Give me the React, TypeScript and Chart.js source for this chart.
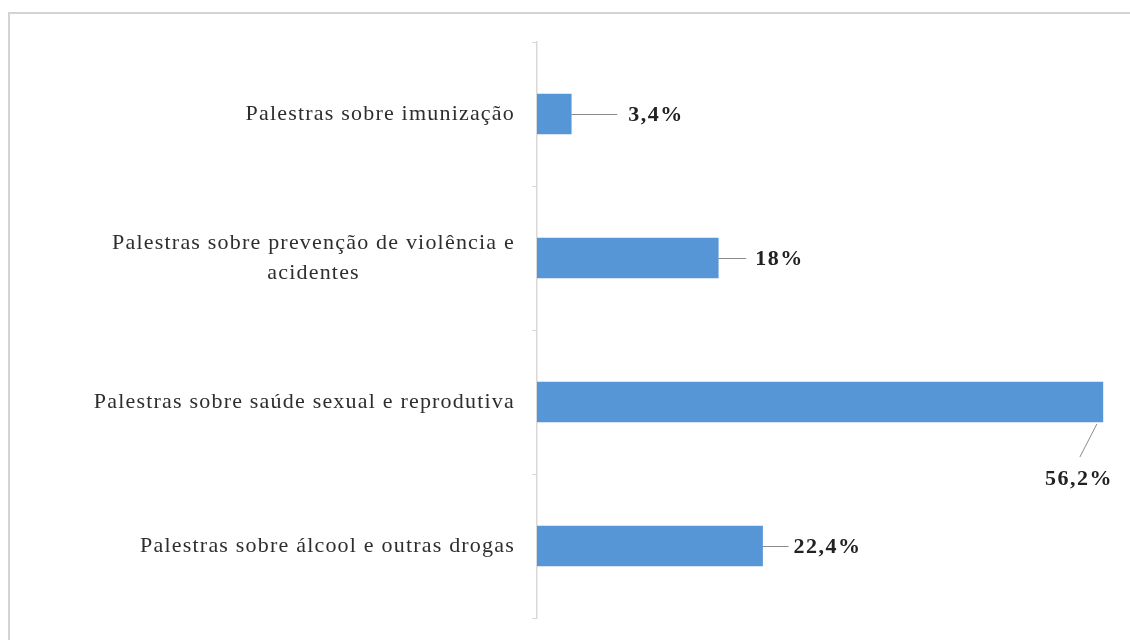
import React, { useEffect, useRef } from "react";
import { Chart, registerables } from "chart.js";

Chart.register(...registerables);

// ---- data ----
const categories: string[][] = [
  ["Palestras sobre imunização"],
  ["Palestras sobre prevenção de violência e", "acidentes"],
  ["Palestras sobre saúde sexual e reprodutiva"],
  ["Palestras sobre álcool e outras drogas"],
];
const values: number[] = [3.4, 18, 56.2, 22.4];
const valueLabels: string[] = ["3,4%", "18%", "56,2%", "22,4%"];

const FONT = "'Liberation Serif', 'Times New Roman', serif";

const framePlugin = {
  id: "frame",
  beforeDraw(chart: any) {
    const ctx = chart.ctx;
    ctx.save();
    ctx.fillStyle = "#ffffff";
    ctx.fillRect(0, 0, chart.width, chart.height);
    ctx.strokeStyle = "#d4d4d4";
    ctx.lineWidth = 2;
    ctx.strokeRect(9, 13, chart.width + 50, chart.height + 50);
    ctx.restore();
  },
};

const categoryLabelPlugin = {
  id: "catLabels",
  afterDraw(chart: any) {
    const ctx = chart.ctx;
    const yScale = chart.scales.y;
    const rightX = chart.chartArea.left - 22;
    const lineH = 30;
    ctx.save();
    ctx.font = `22px ${FONT}`;
    (ctx as any).letterSpacing = "1.2px";
    ctx.fillStyle = "#2e2e2e";
    ctx.textAlign = "center";
    ctx.textBaseline = "middle";
    categories.forEach((lines, i) => {
      const cy = yScale.getPixelForValue(i);
      const w = Math.max(...lines.map((l) => ctx.measureText(l).width));
      const cx = rightX - w / 2;
      const startY = cy - ((lines.length - 1) * lineH) / 2;
      lines.forEach((l, k) => ctx.fillText(l, cx, startY + k * lineH));
    });
    ctx.restore();
  },
};

const valueLabelPlugin = {
  id: "valLabels",
  afterDatasetsDraw(chart: any) {
    const ctx = chart.ctx;
    const meta = chart.getDatasetMeta(0);
    const leader = [46, 28, 0, 26];
    const gap = [11, 9, 0, 5];
    ctx.save();
    ctx.font = `bold 22px ${FONT}`;
    (ctx as any).letterSpacing = "1.5px";
    ctx.fillStyle = "#222222";
    ctx.strokeStyle = "#8c8c8c";
    ctx.lineWidth = 1;
    ctx.textBaseline = "middle";
    meta.data.forEach((bar: any, i: number) => {
      const x = bar.x;
      const y = bar.y;
      if (i === 2) {
        ctx.beginPath();
        ctx.moveTo(x - 6, y + 22);
        ctx.lineTo(x - 23, y + 55);
        ctx.stroke();
        ctx.textAlign = "center";
        ctx.fillText(valueLabels[i], x - 24, y + 77);
      } else {
        ctx.beginPath();
        ctx.moveTo(x, y + 0.5);
        ctx.lineTo(x + leader[i], y + 0.5);
        ctx.stroke();
        ctx.textAlign = "left";
        ctx.fillText(valueLabels[i], x + leader[i] + gap[i], y + 1);
      }
    });
    ctx.restore();
  },
};

export default function App() {
  const ref = useRef<HTMLCanvasElement | null>(null);
  useEffect(() => {
    if (!ref.current) return;
    const chart = new Chart(ref.current, {
      type: "bar",
      data: {
        labels: categories.map((c) => c.join(" ")),
        datasets: [
          {
            data: values,
            backgroundColor: "#5796d6",
            borderWidth: 0,
            barThickness: 40,
          },
        ],
      },
      options: {
        indexAxis: "y",
        responsive: false,
        animation: false,
        devicePixelRatio: 1,
        layout: { padding: { left: 527, right: 9, top: 42, bottom: 22 } },
        plugins: {
          legend: { display: false },
          tooltip: { enabled: false },
        },
        scales: {
          x: { display: false, min: 0, max: 58 },
          y: {
            afterFit: (s: any) => {
              s.width = 10;
            },
            ticks: { display: false },
            grid: {
              offset: true,
              drawOnChartArea: false,
              drawTicks: true,
              tickLength: 5,
              color: "#d9d9d9",
            },
            border: { display: true, color: "#d9d9d9", width: 1.5 },
          },
        },
      },
      plugins: [framePlugin, categoryLabelPlugin, valueLabelPlugin],
    });
    return () => chart.destroy();
  }, []);
  return (
    <div style={{ position: "fixed", left: 0, top: 0, width: 1130, height: 640, background: "#fff" }}>
      <canvas ref={ref} width={1130} height={640} style={{ display: "block" }} />
    </div>
  );
}
